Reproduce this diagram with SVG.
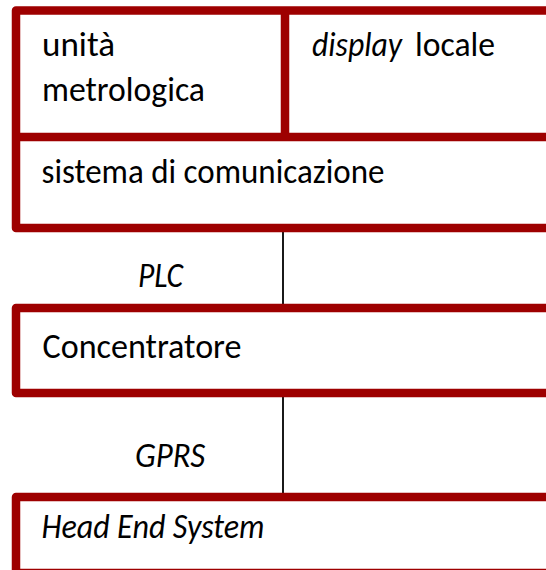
<svg xmlns="http://www.w3.org/2000/svg" width="546" height="570" viewBox="0 0 546 570">
<style>
.box{fill:#fff;stroke:#9E0000;stroke-width:8.5;stroke-linejoin:round}
.div{stroke:#9E0000;stroke-width:8.5;fill:none}
.conn{stroke:#000;stroke-width:1.8;fill:none}
text{font-family:Carlito,Calibri,Lato,"Open Sans","Liberation Sans",sans-serif;font-size:35px;fill:#000}
.it{font-style:italic}
</style>
<rect width="546" height="570" fill="#fff"/>
<g id="connectors">
<line class="conn" x1="283" y1="230" x2="283" y2="306"/>
<line class="conn" x1="283" y1="395" x2="283" y2="495"/>
<text class="it" x="138" y="287" textLength="45" lengthAdjust="spacingAndGlyphs">PLC</text>
<text class="it" x="135" y="467" textLength="70" lengthAdjust="spacingAndGlyphs">GPRS</text>
</g>
<g id="contatore">
<rect class="box" x="16" y="10.5" width="560" height="217.5"/>
<line class="div" x1="16" y1="137" x2="560" y2="137"/>
<line class="div" x1="285" y1="10.5" x2="285" y2="137"/>
<g id="unita">
<text x="42" y="56" textLength="73" lengthAdjust="spacingAndGlyphs">unità</text>
<text x="42" y="101" textLength="163" lengthAdjust="spacingAndGlyphs">metrologica</text>
</g>
<g id="display">
<text x="312" y="56"><tspan class="it" textLength="90" lengthAdjust="spacingAndGlyphs">display</tspan><tspan x="415" textLength="80" lengthAdjust="spacingAndGlyphs">locale</tspan></text>
</g>
<g id="sistema">
<text x="41.5" y="183" textLength="343" lengthAdjust="spacingAndGlyphs">sistema di comunicazione</text>
</g>
</g>
<g id="concentratore">
<rect class="box" x="16" y="308" width="560" height="85"/>
<text x="42.5" y="358" textLength="199" lengthAdjust="spacingAndGlyphs">Concentratore</text>
</g>
<g id="hes">
<rect class="box" x="16" y="497" width="560" height="76"/>
<text class="it" x="41.5" y="538" textLength="223" lengthAdjust="spacingAndGlyphs">Head End System</text>
</g>
</svg>
